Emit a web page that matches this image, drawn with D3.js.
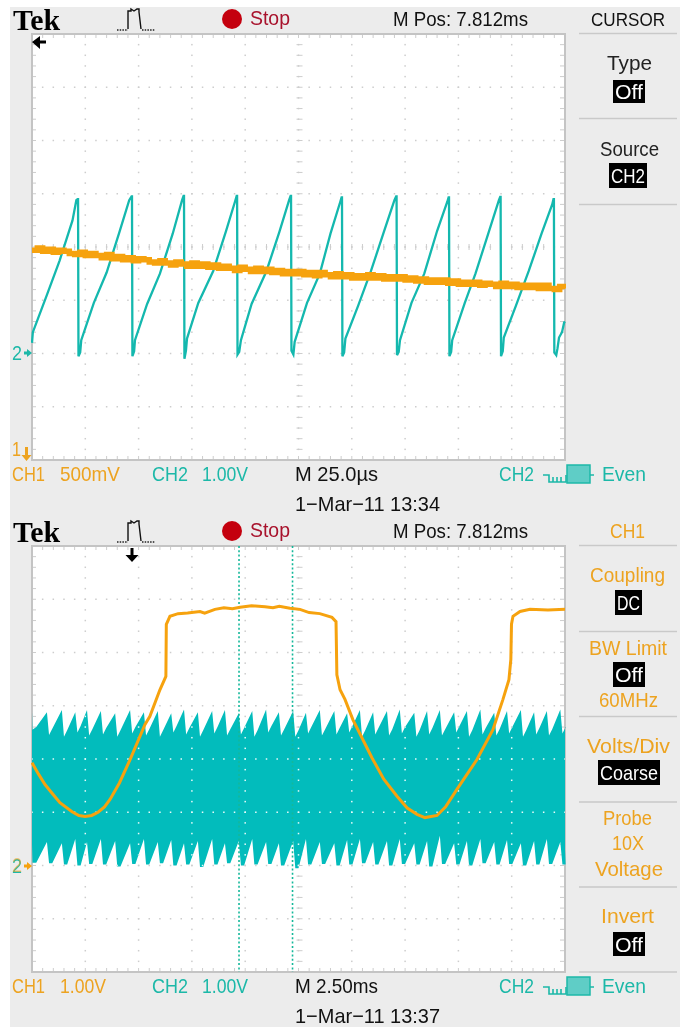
<!DOCTYPE html>
<html><head><meta charset="utf-8">
<style>html,body{margin:0;padding:0;background:#fff}svg{display:block;filter:blur(.4px)}text{font-family:"Liberation Sans",sans-serif}</style>
<script src="https://cdn.jsdelivr.net/npm/d3@7"></script></head><body>
<svg id="c" width="680" height="1027"></svg>
<script>
// ---- top screen: 25 us/div, CH1 500 mV/div, CH2 1 V/div
const topCh2 = [[0,0.2],[0.4,0.4],[7,1.1],[13,1.75],[19,2.5],[20.8,2.88],[21.4,2.9],
[21.6,2.9],[21.8,-0.05],[22.6,0.02],[23.1,0.25],[29,0.95],[35,1.52],[41,2.28],[45.6,2.88],[46.7,2.95],
[46.9,2.95],[47.1,-0.05],[47.9,0.04],[48.3,0.25],[54,0.93],[60,1.5],[66,2.25],[70.4,2.88],[71.1,2.96],
[71.3,2.96],[71.5,-0.1],[72.2,0.05],[72.7,0.28],[78,0.95],[85,1.55],[91,2.3],[95.2,2.85],[96,2.96],
[96.2,2.96],[96.4,-0.02],[97.2,0.03],[98,0.25],[103,0.93],[110,1.55],[116,2.28],[120.6,2.88],[121.3,2.96],
[121.5,2.96],[121.7,0.05],[122.6,-0.02],[123.2,0.22],[129,0.95],[135,1.5],[140,2.25],[144.6,2.85],[145.2,2.93],
[145.4,2.93],[145.6,-0.05],[146.4,0.02],[147,0.28],[153,0.9],[159,1.55],[165,2.28],[170,2.88],[170.8,2.95],
[171,2.95],[171.2,-0.03],[172,0.03],[172.6,0.25],[178,0.95],[184,1.5],[190,2.3],[194.8,2.85],[195.4,2.93],
[195.6,2.93],[195.8,-0.05],[196.6,0.03],[197.1,0.25],[203,0.95],[208,1.5],[214,2.25],[219,2.88],[219.6,2.94],
[219.8,2.94],[220,-0.05],[220.8,0.04],[221.3,0.3],[227,0.9],[233,1.55],[239,2.25],[244,2.8],[244.6,2.9],
[244.8,2.9],[245,0.02],[245.9,-0.03],[246.5,0.1],[247.2,0.3],[248.6,0.4],[249.6,0.58],[250,0.6]];
const topCh1 = [1.97,1.99,1.96,1.98,1.95,1.97,1.96,1.94,1.93,1.95,1.92,1.94,1.92,1.90,1.93,1.89,1.91,1.88,1.90,1.87,1.89,1.88,1.86,1.85,1.87,1.85,1.83,1.86,1.84,1.82,1.85,1.82,1.84,1.81,1.83,1.80,1.82,1.80,1.78,1.81,1.79,1.77,1.80,1.77,1.79,1.76,1.78,1.75,1.77,1.75,1.77,1.74,1.76,1.73,1.76,1.74,1.72,1.75,1.72,1.74,1.71,1.73,1.71,1.74,1.71,1.73,1.70,1.72,1.70,1.72,1.69,1.71,1.68,1.70,1.67,1.69,1.67,1.69,1.66,1.68,1.65,1.67,1.65,1.67,1.64,1.66,1.65,1.63,1.66,1.63,1.65,1.62,1.64,1.62,1.64,1.61,1.64,1.61,1.60,1.63,1.61];

// ---- bottom screen: 2.5 ms/div, both channels 1 V/div
const botCh1 = [[0,1.93],[0.3,1.72],[0.61,1.52],[1.0,1.33],[1.31,1.18],[1.88,1.01],[2.2,0.94],[2.49,0.92],[2.8,0.94],[3.1,1.0],[3.4,1.1],[3.66,1.24],[4.1,1.55],[4.6,1.99],[5.3,2.65],[5.53,2.8],[6.0,3.3],[6.28,3.55],[6.3,4.53],[6.47,4.68],[6.85,4.73],[7.3,4.74],[7.88,4.77],[8.1,4.74],[8.58,4.81],[9.0,4.84],[9.4,4.82],[9.76,4.85],[10.3,4.88],[10.93,4.86],[11.3,4.84],[11.6,4.87],[12.1,4.83],[12.57,4.81],[13.0,4.75],[13.5,4.73],[14.07,4.66],[14.26,4.58],[14.3,3.58],[14.45,3.3],[14.68,3.12],[15.05,2.74],[15.95,2.02],[16.5,1.62],[17.12,1.3],[17.6,1.08],[18.06,.96],[18.43,.9],[19.0,.94],[19.4,1.1],[19.93,1.43],[20.87,1.99],[21.62,2.55],[22.09,3.12],[22.37,3.49],[22.46,3.87],[22.49,4.53],[22.56,4.68],[22.89,4.77],[23.36,4.81],[24.2,4.8],[25,4.81]];
const botTipTimes = [0.7,1.4,2.03,2.58,3.23,3.9,4.6,5.25,5.9,6.53,7.13,7.78,8.45,9.05,9.7,10.33,10.98,11.58,12.25,12.85,13.5,14.18,14.78,15.38,16.0,16.65,17.25,17.93,18.53,19.13,19.8,20.4,21.03,21.68,22.28,22.93,23.55,24.15,24.78];
const botTipVolts = [2.88,2.92,2.88,2.92,2.9,2.86,2.92,2.88,2.9,2.86,2.93,2.88,2.9,2.92,2.86,2.9,2.93,2.88,2.9,2.87,2.92,2.9,2.86,2.92,2.88,2.9,2.93,2.87,2.9,2.92,2.88,2.9,2.93,2.87,2.9,2.92,2.88,2.9,2.93];
const botValleyVolts = [2.45,2.42,2.5,2.44,2.46,2.42,2.48,2.44,2.42,2.5,2.46,2.42,2.48,2.44,2.46,2.42,2.5,2.44,2.42,2.48,2.44,2.46,2.5,2.42,2.46,2.44,2.48,2.42,2.46,2.44,2.5,2.42,2.46,2.44,2.48,2.42,2.46,2.44,2.48];
const botApexVolts = [0.44,0.42,0.5,0.44,0.5,0.46,0.42,0.5,0.44,0.48,0.42,0.46,0.5,0.42,0.46,0.5,0.44,0.42,0.46,0.5,0.44,0.42,0.48,0.5,0.44,0.46,0.5,0.42,0.46,0.56,0.42,0.46,0.5,0.44,0.48,0.42,0.46,0.5,0.44];
const botBaseVolts = [0.04,0.02,0.0,0.03,0.02,-0.02,0.03,0.02,0.04,0.0,0.02,-0.03,0.02,0.04,0.0,0.02,0.03,0.0,-0.05,0.02,0.03,0.0,0.02,0.04,0.02,0.0,0.03,0.02,-0.02,0.03,0.02,0.0,0.04,0.02,0.03,0.0,0.02,0.03,0.02];
const botCursorTimes = [9.71,12.22];

const COL = {bg:"#ececec",grid:"#cdcdcd",teal:"#14b8ae",fill:"#02bcbc",org:"#f6a20e",orgT:"#eda320",tealT:"#1cb8a8",red:"#c4000e",redT:"#a8122c",sep:"#c9c9c9"};
const FS=21;
const svg = d3.select("#c");
svg.append("rect").attr("x",10).attr("y",7).attr("width",670).attr("height",1020).attr("fill",COL.bg);

function txt(g,s,x1,x2,base,size,fill,extra){
  const t=g.append("text").attr("x",x1).attr("y",base).attr("font-size",size).attr("fill",fill)
    .attr("textLength",x2-x1).attr("lengthAdjust","spacingAndGlyphs").text(s);
  if(extra) extra(t); return t;
}
function sep(g,y){g.append("line").attr("x1",579).attr("x2",677).attr("y1",y).attr("y2",y).attr("stroke",COL.sep).attr("stroke-width",1.5);}
function box(g,s,x1,x2,y1,y2){
  g.append("rect").attr("x",x1).attr("y",y1).attr("width",x2-x1).attr("height",y2-y1).attr("fill","#000");
  g.append("text").attr("x",x1+2).attr("y",(y1+y2)/2+7.5).attr("font-size",FS).attr("fill","#fff")
   .attr("textLength",x2-x1-4).attr("lengthAdjust","spacingAndGlyphs").text(s);
}
function grid(g,x,y,col,onlyDots){
  const xd=d3.range(0,10.01,0.2), yd=d3.range(0,8.01,0.2);
  d3.range(1,10).forEach(i=>yd.forEach(j=>g.append("rect").attr("x",x(i)-.75).attr("y",y(j)-.75).attr("width",1.5).attr("height",1.5).attr("fill",col)));
  d3.range(1,8).forEach(j=>xd.forEach(i=>g.append("rect").attr("x",x(i)-.75).attr("y",y(j)-.75).attr("width",1.5).attr("height",1.5).attr("fill",col)));
  if(onlyDots) return;
  yd.forEach(j=>{[[x(0),x(0)+4],[x(5)-2,x(5)+4],[x(10)-5,x(10)]].forEach(a=>g.append("line").attr("x1",a[0]).attr("x2",a[1]).attr("y1",y(j)).attr("y2",y(j)).attr("stroke",col).attr("stroke-width",1));});
  xd.forEach(i=>{[[y(0),y(0)-4],[y(4)-3,y(4)+3],[y(8)+4,y(8)]].forEach(a=>g.append("line").attr("y1",a[0]).attr("y2",a[1]).attr("x1",x(i)).attr("x2",x(i)).attr("stroke",col).attr("stroke-width",1));});
  g.append("rect").attr("x",x(0)).attr("y",y(8)).attr("width",x(10)-x(0)).attr("height",y(0)-y(8)).attr("fill","none").attr("stroke","#c4c4c4").attr("stroke-width",2);
}
function header(g,dy,rightLabel,rightCol,rightSize){
  txt(g,"Tek",13,60,30+dy,30,"#000",t=>t.style("font-family","'Liberation Serif'").attr("font-weight","bold"));
  g.append("path").attr("d",`M128 ${29+dy}V${11+dy}H131V${9+dy}L134 ${11+dy}L137 ${9+dy}H139V${12+dy}L141 ${29+dy}`).attr("fill","none").attr("stroke","#111").attr("stroke-width",1.4);
  g.append("path").attr("d",`M117 ${30+dy}H128M142 ${30+dy}H155`).attr("fill","none").attr("stroke","#222").attr("stroke-width",1.6).attr("stroke-dasharray","1.5 1.2");
  g.append("circle").attr("cx",232).attr("cy",19+dy).attr("r",10).attr("fill",COL.red);
  txt(g,"Stop",250,290,25+dy,FS,COL.redT);
  txt(g,"M Pos: 7.812ms",393,528,26+dy,FS,"#111");
  txt(g,rightLabel[0],rightLabel[1],rightLabel[2],26+dy,rightSize,rightCol);
}
function trigIcon(g,dy){
  g.append("path").attr("d",`M543 ${475+dy}H549V${482+dy}H553V${477+dy}M553 ${482+dy}H557V${477+dy}M557 ${482+dy}H561V${477+dy}M561 ${482+dy}H566V${475+dy}M590 ${475+dy}H594`).attr("fill","none").attr("stroke",COL.tealT).attr("stroke-width",1.6);
  g.append("rect").attr("x",567).attr("y",465+dy).attr("width",23).attr("height",18).attr("fill","#5fcdc6").attr("stroke",COL.tealT).attr("stroke-width",1.5);
}
function footer(g,dy,ch1v,x1,x2,mt,mx,stamp){
  txt(g,"CH1",12,45,481+dy,FS,COL.orgT);
  txt(g,ch1v,x1,x2,481+dy,FS,COL.orgT);
  txt(g,"CH2",152,188,481+dy,FS,COL.tealT);
  txt(g,"1.00V",202,248,481+dy,FS,COL.tealT);
  txt(g,mt,295,mx,481+dy,FS,"#111");
  txt(g,"CH2",499,534,481+dy,FS,COL.tealT);
  trigIcon(g,dy);
  txt(g,"Even",602,646,481+dy,FS,COL.tealT);
  txt(g,stamp,295,440,511+dy,FS,"#111");
}

// ---- TOP
const topG=svg.append("g");
const xT=d3.scaleLinear().domain([0,250]).range([32,565]);
const yT2=d3.scaleLinear().domain([-2,6]).range([460,34]);
const yT1=d3.scaleLinear().domain([0,4]).range([460,34]);
const xDivT=d3.scaleLinear().domain([0,10]).range([32,565]), yDivT=d3.scaleLinear().domain([0,8]).range([460,34]);
topG.append("rect").attr("x",32).attr("y",34).attr("width",533).attr("height",426).attr("fill","#fff");
grid(topG.append("g"),xDivT,yDivT,COL.grid);
svg.append("clipPath").attr("id","cpT").append("rect").attr("x",31).attr("y",34).attr("width",535).attr("height",426);
svg.append("clipPath").attr("id","cpB").append("rect").attr("x",31).attr("y",546).attr("width",535).attr("height",426);
const topW=topG.append("g").attr("clip-path","url(#cpT)");
topW.append("path").attr("d",d3.line().x(d=>xT(d[0])).y(d=>yT2(d[1]))(topCh2)).attr("fill","none").attr("stroke",COL.teal).attr("stroke-width",2.3);
topW.append("path").attr("d",d3.line().curve(d3.curveStepAfter).x((d,i)=>xT(i*250/(topCh1.length-1))).y(d=>yT1(d))(topCh1)).attr("fill","none").attr("stroke",COL.org).attr("stroke-width",5.5);
header(topG,0,["CURSOR",591,665],"#111",19);
footer(topG,0,"500mV",60,120,"M 25.0\u00b5s",378,"1\u2212Mar\u221211 13:34");
sep(topG,33.5);
txt(topG,"Type",607,652,70,FS,"#222");
box(topG,"Off",613,645,80,103);
sep(topG,118.5);
txt(topG,"Source",600,659,156,FS,"#222");
box(topG,"CH2",609,647,163,188);
sep(topG,204.5);
topG.append("path").attr("d","M32 42L40 36V40.5H46V43.5H40V49Z").attr("fill","#000");
txt(topG,"2",12,22,360,FS,COL.tealT);
topG.append("path").attr("d","M24 351.5H27V349L32 353L27 357V354.5H24Z").attr("fill",COL.tealT);
txt(topG,"1",12,21,456,FS,COL.orgT);
topG.append("path").attr("d","M25 447H28V455H31.5L26.5 461L21.5 455H25Z").attr("fill",COL.orgT);

// ---- BOTTOM
const botG=svg.append("g");
const xB=d3.scaleLinear().domain([0,25]).range([32,565]);
const yB=d3.scaleLinear().domain([-2,6]).range([972,546]);
const xDivB=d3.scaleLinear().domain([0,10]).range([32,565]), yDivB=d3.scaleLinear().domain([0,8]).range([972,546]);
botG.append("rect").attr("x",32).attr("y",546).attr("width",533).attr("height",426).attr("fill","#fff");
grid(botG.append("g"),xDivB,yDivB,COL.grid);
const bandRows=[{t:0,u:2.9,l:0.4},{t:0.02,u:2.55,l:0.05},{t:0.2,u:2.6,l:0.05}];
botTipTimes.forEach((t,i)=>{
  bandRows.push({t:t,u:botTipVolts[i],l:botApexVolts[i]});
  bandRows.push({t:t+0.1,u:botValleyVolts[i],l:botBaseVolts[i]});
  bandRows.push({t:t+0.25,u:botValleyVolts[i]+0.12,l:botBaseVolts[i]});
});
bandRows.push({t:25,u:2.6,l:0.3});
const bandPath=d3.area().x(d=>xB(d.t)).y0(d=>yB(d.l)).y1(d=>yB(d.u))(bandRows);
const botW=botG.append("g").attr("clip-path","url(#cpB)");
botW.append("path").attr("d",bandPath).attr("fill",COL.fill);
svg.append("clipPath").attr("id","cpBand").append("path").attr("d",bandPath);
grid(botW.append("g").attr("clip-path","url(#cpBand)"),xDivB,yDivB,"#e8fbfa",true);
botCursorTimes.forEach(t=>botW.append("line").attr("x1",xB(t)).attr("x2",xB(t)).attr("y1",546).attr("y2",972).attr("stroke","#14b89a").attr("stroke-width",1.6).attr("stroke-dasharray","2 2.3"));
botW.append("path").attr("d",d3.line().x(d=>xB(d[0])).y(d=>yB(d[1]))(botCh1)).attr("fill","none").attr("stroke",COL.org).attr("stroke-width",3);
header(botG,512,["CH1",610,645],COL.orgT,FS);
footer(botG,512,"1.00V",60,106,"M 2.50ms",378,"1\u2212Mar\u221211 13:37");
sep(botG,545.5);
txt(botG,"Coupling",590,665,582,FS,COL.orgT);
box(botG,"DC",615,642,590,615);
sep(botG,631.5);
txt(botG,"BW Limit",589,667,655,FS,COL.orgT);
box(botG,"Off",613,645,662,687);
txt(botG,"60MHz",599,658,707,FS,COL.orgT);
sep(botG,716.5);
txt(botG,"Volts/Div",587,670,753,FS,COL.orgT);
box(botG,"Coarse",598,660,760,785);
sep(botG,802);
txt(botG,"Probe",603,652,825,FS,COL.orgT);
txt(botG,"10X",612,644,850,FS,COL.orgT);
txt(botG,"Voltage",595,663,876,FS,COL.orgT);
sep(botG,887);
txt(botG,"Invert",601,654,923,FS,COL.orgT);
box(botG,"Off",613,645,932,956);
sep(botG,972);
botG.append("path").attr("d","M130.5 548H133.5V555H138.5L132 562L125.5 555H130.5Z").attr("fill","#000");
txt(botG,"2",12,22,873,FS,COL.tealT);
txt(botG,"2",12,22,872,FS,COL.orgT).attr("opacity",.55);
botG.append("path").attr("d","M24 864.5H27V862L32 866L27 870V867.5H24Z").attr("fill",COL.org);
</script></body></html>
